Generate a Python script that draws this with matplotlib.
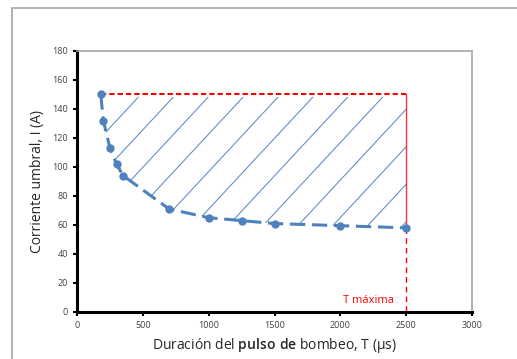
import numpy as np
import matplotlib.pyplot as plt
from matplotlib.patches import Polygon, Rectangle

# data
pulse_us = [180, 200, 250, 300, 350, 700, 1000, 1250, 1500, 2000, 2500]
current_a = [150, 132, 113, 102, 94, 71, 65, 63, 61, 59.5, 58]
i_max = 150
t_max = 2500
x_ticks = [0, 500, 1000, 1500, 2000, 2500, 3000]
y_ticks = [0, 20, 40, 60, 80, 100, 120, 140, 160, 180]

blue = "#4f81bd"
red = "#ff0000"

plt.rcParams['font.family'] = ['Open Sans', 'DejaVu Sans']
plt.rcParams['mathtext.fontset'] = 'custom'
plt.rcParams['mathtext.bf'] = 'Open Sans:semibold'
plt.rcParams['mathtext.rm'] = 'Open Sans'

fig = plt.figure(figsize=(5.17, 3.59), dpi=100)
ax = fig.add_axes([0.149, 0.131, 0.764, 0.727])

# outer chart frame (partly cut off)
fig.patches.append(Rectangle((12/517, -0.5), 2, 1.5 - 8/359, transform=fig.transFigure,
                             fill=False, edgecolor="#a6a6a6", linewidth=1.2))

# hatched region between curve and the max current
region = Polygon(list(zip(pulse_us, current_a)) + [(t_max, i_max)], closed=True,
                 facecolor="none", edgecolor="none")
ax.add_patch(region)
k = 0.0976  # slope of hatch lines in data units
for x0 in np.arange(464, 3400, 265):
    ln, = ax.plot([x0 - 3000, x0], [i_max - 2 - k * 3000, i_max - 2], color="#5b8ac6", lw=0.75)
    ln.set_clip_path(region)

# red limits
ax.plot([pulse_us[0], t_max], [i_max, i_max], color=red, lw=1.5, dashes=(2.5, 1.5))
ax.plot([t_max, t_max], [i_max, current_a[-1]], color="#ff3333", lw=1.0)
ax.plot([t_max, t_max], [current_a[-1], 0], color=red, lw=1.0, dashes=(4, 3))
ax.text(2410, 8, "T máxima", color=red, fontsize=8, ha="right", va="center")

# threshold curve
ax.plot(pulse_us, current_a, color=blue, lw=2.2, dashes=(5, 2.2),
        marker="o", markersize=5, zorder=5)

ax.set_xlim(0, 3000)
ax.set_ylim(0, 180)
ax.set_xticks(x_ticks)
ax.set_yticks(y_ticks)
ax.tick_params(labelsize=6.5, labelcolor="#404040", length=3, width=1.5, color="black")
for s in ["left", "bottom"]:
    ax.spines[s].set_linewidth(2.2)
    ax.spines[s].set_color("black")
for s in ["top", "right"]:
    ax.spines[s].set_linewidth(1.2)
    ax.spines[s].set_color("#a6a6a6")

ax.set_ylabel("Corriente umbral, I (A)", fontsize=10, color="#262626", labelpad=5)
ax.set_xlabel(r"Duración del $\mathbf{pulso\ de}$ bombeo, T (µs)", fontsize=10,
              color="#262626", labelpad=4)

fig.savefig("out.png", dpi=100)
